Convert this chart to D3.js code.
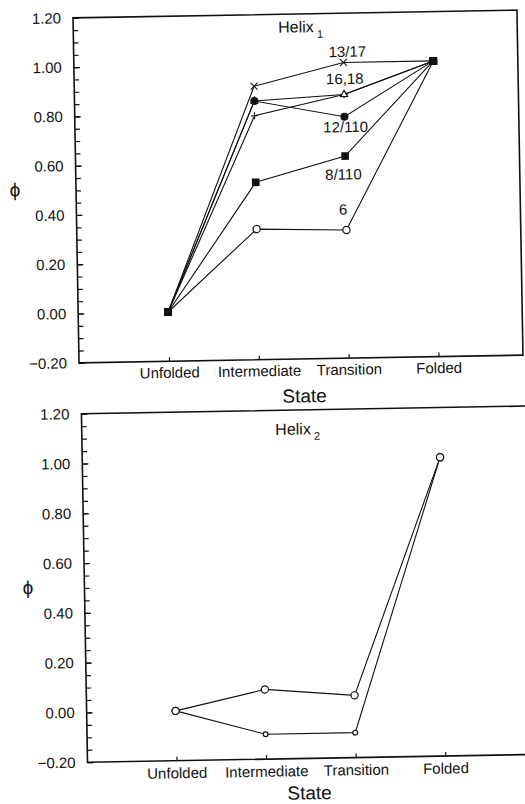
<!DOCTYPE html>
<meta charset="utf-8">
<script src="https://cdn.jsdelivr.net/npm/d3@7"></script>
<style>
  body { margin: 0; background: #fff; }
  text { font-family: "Liberation Sans", Arial, sans-serif; fill: #111; }
</style>
<div id="chart"></div>
<script>
// states on the x axis, phi values on the y axis
var states = ["Unfolded", "Intermediate", "Transition", "Folded"];
var yTickLabels = [-0.2, 0, 0.2, 0.4, 0.6, 0.8, 1.0, 1.2];

// helix 1 mutants (phi at each state)
var phi6     = [0, 0.33, 0.32, 1.00];
var phi18    = [0, 0.79, 0.87, 1.00];
var phi16    = [0, 0.85, 0.87, 1.00];
var phi13_17 = [0, 0.91, 1.00, 1.00];
var phi12_110 = [0, 0.85, 0.78, 1.00];
var phi8_110 = [0, 0.52, 0.62, 1.00];

// helix 2, two series
var helix2A = [0, 0.08, 0.05, 1.00];
var helix2B = [0, -0.10, -0.10, 1.00];

// mutant labels written beside the transition point
var labelText = ["13/17", "16,18", "12/110", "8/110", "6"];
var labelSeries = [phi13_17, phi16, phi12_110, phi8_110, phi6];

var svg = d3.select("#chart").append("svg")
    .attr("width", 525)
    .attr("height", 804);

var ink = "#111";

// small marker shapes like the printed figure
function marker(g, type, px, py) {
  if (type == "square") {
    g.append("rect").attr("x", px - 3.8).attr("y", py - 3.8).attr("width", 7.6).attr("height", 7.6).attr("fill", ink);
  } else if (type == "dot") {
    g.append("circle").attr("cx", px).attr("cy", py).attr("r", 4).attr("fill", ink);
  } else if (type == "circle") {
    g.append("circle").attr("cx", px).attr("cy", py).attr("r", 3.6).attr("fill", "#fff").attr("stroke", ink).attr("stroke-width", 1.2);
  } else if (type == "small") {
    g.append("circle").attr("cx", px).attr("cy", py).attr("r", 2.4).attr("fill", "#fff").attr("stroke", ink).attr("stroke-width", 1.2);
  } else if (type == "cross") {
    g.append("path").attr("d", "M" + (px - 3.5) + "," + (py - 3.5) + "L" + (px + 3.5) + "," + (py + 3.5) +
      "M" + (px - 3.5) + "," + (py + 3.5) + "L" + (px + 3.5) + "," + (py - 3.5))
      .attr("stroke", ink).attr("stroke-width", 1.1);
  } else if (type == "plus") {
    g.append("path").attr("d", "M" + (px - 3.5) + "," + py + "L" + (px + 3.5) + "," + py +
      "M" + px + "," + (py - 3.5) + "L" + px + "," + (py + 3.5))
      .attr("stroke", ink).attr("stroke-width", 1.1);
  } else if (type == "triangle") {
    g.append("path").attr("d", d3.symbol(d3.symbolTriangle, 22)()).attr("transform", "translate(" + px + "," + py + ")")
      .attr("fill", "#fff").attr("stroke", ink).attr("stroke-width", 1.1);
  }
}

function drawPanel(opt) {
  // the printed page is scanned a little askew
  var g = svg.append("g").attr("transform", "rotate(-1," + opt.cx + "," + opt.cy + ")");

  var x = d3.scalePoint().domain(states).range([opt.x0, opt.x1]);
  var y = d3.scaleLinear().domain([-0.2, 1.2]).range([opt.bottom, opt.top]);

  g.append("rect")
    .attr("x", opt.left).attr("y", opt.top)
    .attr("width", opt.right - opt.left).attr("height", opt.bottom - opt.top)
    .attr("fill", "none").attr("stroke", ink).attr("stroke-width", 1.6);

  // minor ticks every 0.05
  g.append("g")
    .attr("transform", "translate(" + opt.left + ",0)")
    .call(d3.axisLeft(y).tickValues(d3.range(-0.2, 1.2001, 0.05)).tickSize(-5).tickFormat(""))
    .call(function(a) { a.select(".domain").remove(); a.selectAll("line").attr("stroke", ink).attr("stroke-width", 1.2); });

  g.append("g")
    .attr("transform", "translate(" + opt.left + ",0)")
    .call(d3.axisLeft(y).tickValues(yTickLabels).tickSize(-6).tickPadding(12).tickFormat(d3.format(".2f")))
    .call(function(a) {
      a.select(".domain").remove();
      a.selectAll("line").attr("stroke", ink).attr("stroke-width", 1.2);
      a.selectAll("text").style("font-size", "15px");
    });

  g.append("g")
    .attr("transform", "translate(0," + opt.bottom + ")")
    .call(d3.axisBottom(x).tickSize(-4).tickPadding(opt.pad))
    .call(function(a) {
      a.select(".domain").remove();
      a.selectAll("line").attr("stroke", ink).attr("stroke-width", 1.2);
      a.selectAll("text").style("font-size", "15px");
    });

  g.append("text")
    .attr("x", opt.stateX).attr("y", opt.stateY)
    .attr("text-anchor", "middle").attr("dominant-baseline", "central")
    .style("font-size", "19px")
    .text("State");

  g.append("text")
    .attr("x", opt.phiX).attr("y", opt.phiY)
    .attr("text-anchor", "middle").attr("dominant-baseline", "central")
    .style("font-size", "19px")
    .text("ϕ");

  var title = g.append("text")
    .attr("x", opt.titleX).attr("y", opt.titleY)
    .attr("dominant-baseline", "central")
    .style("font-size", "16px")
    .text("Helix");
  title.append("tspan").attr("dx", 3).attr("dy", 7).style("font-size", "11px").text(opt.sub);

  var line = d3.line()
    .x(function(d, i) { return x(states[i]); })
    .y(function(d) { return y(d); });

  opt.series.forEach(function(s) {
    g.append("path")
      .datum(s.values)
      .attr("d", line)
      .attr("fill", "none")
      .attr("stroke", ink)
      .attr("stroke-width", 1.1);
  });
  opt.series.forEach(function(s) {
    s.values.forEach(function(v, i) {
      var m = s.marker;
      if (s.ends && (i == 0 || i == 3)) m = s.ends;
      marker(g, m, x(states[i]), y(v));
    });
  });

  return {g: g, x: x, y: y};
}

var top1 = drawPanel({
  cx: 298, cy: 187,
  left: 76, right: 520, top: 14, bottom: 359,
  x0: 166, x1: 435.5, pad: 6,
  stateX: 301, stateY: 396,
  phiX: 15, phiY: 185,
  titleX: 281, titleY: 27, sub: "1",
  series: [
    {values: phi6, marker: "circle", ends: "square"},
    {values: phi18, marker: "plus", ends: "square"},
    {values: phi16, marker: "triangle", ends: "square"},
    {values: phi13_17, marker: "cross", ends: "square"},
    {values: phi12_110, marker: "dot"},
    {values: phi8_110, marker: "square"}
  ]
});

// mutant labels
var labelDy = [-11, -16, 10, 18, -21];
var labelDx = [4, 1, 1, -2, -3];
labelText.forEach(function(t, i) {
  top1.g.append("text")
    .attr("x", top1.x("Transition") + labelDx[i])
    .attr("y", top1.y(labelSeries[i][2]) + labelDy[i])
    .attr("text-anchor", "middle").attr("dominant-baseline", "central")
    .style("font-size", "15px")
    .text(t);
});

drawPanel({
  cx: 300, cy: 588,
  left: 84.5, right: 532, top: 410, bottom: 758.5,
  x0: 173.5, x1: 442.3, pad: 7,
  stateX: 306, stateY: 793,
  phiX: 28, phiY: 583,
  titleX: 278, titleY: 429, sub: "2",
  series: [
    {values: helix2B, marker: "small", ends: "circle"},
    {values: helix2A, marker: "circle"}
  ]
});
</script>
